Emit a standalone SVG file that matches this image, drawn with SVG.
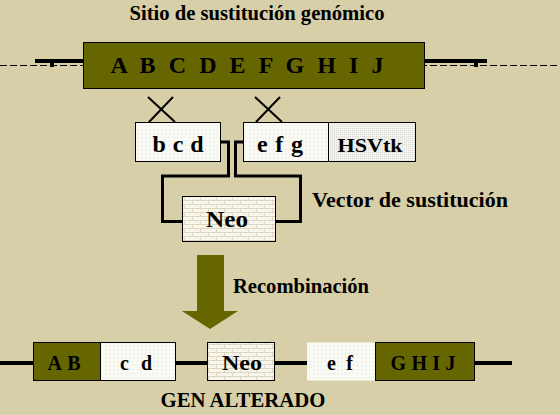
<svg xmlns="http://www.w3.org/2000/svg" width="560" height="415" viewBox="0 0 560 415">
<defs>
<pattern id="brick" width="16" height="8" patternUnits="userSpaceOnUse">
<rect width="16" height="8" fill="#F8F6EC"/>
<path d="M0,0.5H16M0,4.5H16M0.5,0V4M8.5,4V8" stroke="#DCD6BE" stroke-width="1" fill="none"/>
</pattern>
<pattern id="dots" width="4" height="4" patternUnits="userSpaceOnUse">
<rect width="4" height="4" fill="#FAFAF4"/>
<rect x="1" y="1" width="1" height="1" fill="#E2E0D4"/>
</pattern>
<pattern id="dotsgrey" width="2" height="2" patternUnits="userSpaceOnUse">
<rect width="2" height="2" fill="#F2F2EE"/>
<rect x="0" y="0" width="1" height="1" fill="#DCDCD6"/>
</pattern>
<style>
.t{font-family:"Liberation Serif","Times New Roman",serif;font-weight:bold;fill:#000;text-anchor:middle}
.olive{fill:#666600;stroke:#000;stroke-width:1}
.white{fill:url(#dots);stroke:#000;stroke-width:1}
.grey{fill:url(#dotsgrey);stroke:#000;stroke-width:1}
.neo{fill:url(#brick);stroke:#000;stroke-width:1}
.conn{fill:none;stroke:#000;stroke-width:3}
.x{stroke:#000;stroke-width:2}
</style>
</defs>
<rect width="560" height="415" fill="#D7CFA8"/>

<text class="t" x="257" y="20" font-size="20" textLength="255" lengthAdjust="spacingAndGlyphs">Sitio de sustitución genómico</text>

<g id="top-dna">
<line x1="0" y1="65.5" x2="560" y2="65.5" stroke="#000" stroke-width="1" stroke-dasharray="7,3"/>
<rect x="35" y="59" width="48" height="4" fill="#000"/>
<rect x="50" y="63" width="4" height="4" fill="#000"/>
<rect x="425" y="59" width="62" height="4" fill="#000"/>
<rect x="474" y="63" width="4" height="4" fill="#000"/>
</g>

<g id="genomic-site">
<rect class="olive" x="83.5" y="42.5" width="341" height="46"/>
<text class="t" x="247" y="73" font-size="24" textLength="273" lengthAdjust="spacing">A B C D E F G H I J</text>
</g>

<g id="crossovers">
<line class="x" x1="148" y1="97" x2="175" y2="122"/>
<line class="x" x1="173" y1="97" x2="149" y2="122"/>
<line class="x" x1="255" y1="97" x2="282" y2="122"/>
<line class="x" x1="280" y1="97" x2="256" y2="122"/>
</g>

<g id="connectors">
<path class="conn" d="M220,142H228.5V176H162.5V221.5H182"/>
<path class="conn" d="M243,142H235.5V176H300.5V221.5H275"/>
</g>

<g id="bcd">
<rect class="white" x="135.5" y="122.5" width="85" height="39"/>
<text class="t" x="178" y="152" font-size="24" textLength="51" lengthAdjust="spacing">b c d</text>
</g>

<g id="efg">
<rect class="white" x="243.5" y="122.5" width="85" height="39"/>
<text class="t" x="280" y="152" font-size="24" textLength="46" lengthAdjust="spacing">e f g</text>
</g>

<g id="hsvtk">
<rect class="grey" x="328.5" y="122.5" width="87" height="39"/>
<text class="t" x="370" y="152" font-size="18" textLength="65" lengthAdjust="spacingAndGlyphs">HSVtk</text>
</g>

<g id="neo-vector">
<rect class="neo" x="182.5" y="196.5" width="93" height="45"/>
<text class="t" x="227" y="227" font-size="24" textLength="42" lengthAdjust="spacingAndGlyphs">Neo</text>
</g>

<text class="t" x="410" y="207" font-size="22" textLength="196" lengthAdjust="spacingAndGlyphs">Vector de sustitución</text>

<g id="arrow">
<polygon points="197,255 224,255 224,311 238,311 210,329 182,311 197,311" fill="#666600"/>
</g>

<text class="t" x="301" y="293" font-size="21" textLength="136" lengthAdjust="spacingAndGlyphs">Recombinación</text>

<g id="bottom-dna">
<rect x="0" y="361" width="512" height="4" fill="#000"/>
</g>

<g id="AB">
<rect class="olive" x="33.5" y="342.5" width="67" height="38"/>
<text class="t" x="64" y="370" font-size="20" textLength="33" lengthAdjust="spacing">A B</text>
</g>
<g id="cd">
<rect class="white" x="100.5" y="342.5" width="75" height="38" stroke="none" fill="url(#dots)"/>
<text class="t" x="136" y="370" font-size="20" textLength="32" lengthAdjust="spacing">c d</text>
</g>
<g id="neo-gene">
<rect class="neo" x="207.5" y="342.5" width="67" height="38"/>
<text class="t" x="242" y="370" font-size="22" textLength="40" lengthAdjust="spacingAndGlyphs">Neo</text>
</g>
<g id="ef">
<rect x="307" y="342.5" width="68" height="38" fill="url(#dots)"/>
<text class="t" x="340" y="370" font-size="20" textLength="26" lengthAdjust="spacing">e f</text>
</g>
<g id="GHIJ">
<rect class="olive" x="375.5" y="342.5" width="99" height="38"/>
<text class="t" x="423" y="370" font-size="20" textLength="65" lengthAdjust="spacing">G H I J</text>
</g>

<text class="t" x="243" y="407" font-size="20" textLength="165" lengthAdjust="spacingAndGlyphs">GEN ALTERADO</text>
</svg>
